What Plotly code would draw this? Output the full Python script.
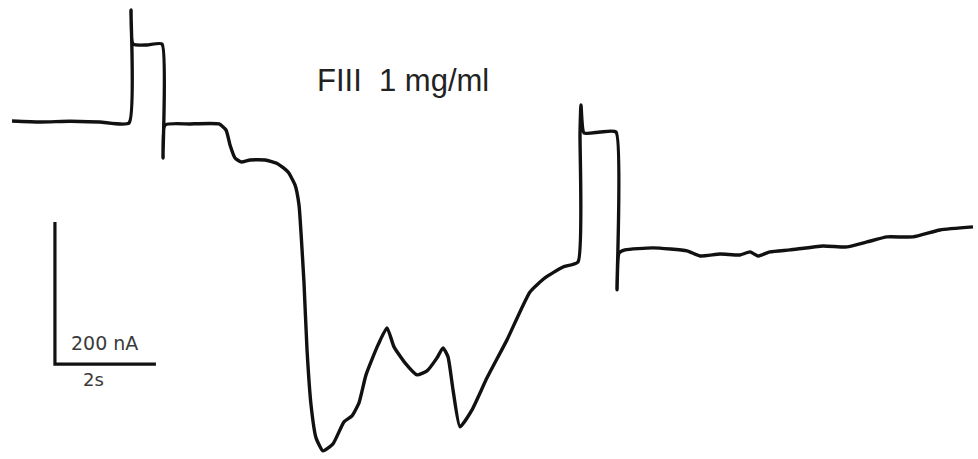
import plotly.graph_objects as go

# Recorded current trace: time (s) and current (nA, relative to initial baseline)
time_s = [
    0.00, 0.55, 1.15, 1.74, 2.317, 2.356, 2.396, 2.673, 2.970, 2.990, 3.030,
    3.525, 4.099, 4.238, 4.317, 4.416, 4.535, 4.713, 5.010, 5.267, 5.465,
    5.604, 5.683, 5.723, 5.782, 5.842, 5.921, 6.020, 6.158, 6.356, 6.574,
    6.733, 6.871, 7.010, 7.248, 7.426, 7.564, 7.782, 8.020, 8.218, 8.416,
    8.535, 8.634, 8.733, 8.871, 9.109, 9.406, 9.802, 10.257, 10.554, 10.911,
    11.208, 11.248, 11.267, 11.327, 11.644, 11.960, 11.980, 12.020, 12.139,
    12.693, 13.366, 13.624, 14.020, 14.416, 14.614, 14.772, 15.010, 15.406,
    16.059, 16.535, 16.931, 17.327, 17.842, 18.376, 19.030,
]
current_nA = [
    1.4, 0.0, 1.0, 0.0, -1.4, 157.7, 109.8, 108.4, 109.8, -50.7, -4.2,
    -2.8, -2.8, -11.3, -32.4, -50.7, -56.3, -53.5, -53.5, -59.1, -70.4,
    -88.7, -116.9, -156.3, -226.7, -321.0, -398.5, -444.9, -463.2, -453.4, -422.4,
    -413.9, -395.6, -356.2, -314.0, -290.0, -316.8, -339.3, -356.2, -350.6, -332.3,
    -318.2, -330.9, -377.3, -429.4, -405.5, -360.4, -306.9, -239.4, -219.6, -204.2,
    -197.1, -15.5, 23.9, -15.5, -14.1, -14.1, -236.5, -184.5, -180.2,
    -177.4, -181.6, -188.7, -185.9, -187.3, -183.0, -188.7, -183.0, -180.2,
    -174.6, -176.0, -169.0, -161.9, -161.9, -152.1, -147.8,
]

# Scale bar: 2 s horizontal, 200 nA vertical
bar_t0, bar_i0 = 0.85, -341.0
bar_dt, bar_di = 2.0, 200.0
bar_t = [bar_t0, bar_t0, bar_t0 + bar_dt]
bar_i = [bar_i0 + bar_di, bar_i0, bar_i0]

title_text = "FIII\u00a0 1 mg/ml"
label_current = "200 nA"
label_time = "2s"

fig = go.Figure()
fig.add_trace(go.Scatter(
    x=time_s, y=current_nA, mode="lines",
    line=dict(color="#111111", width=3.4, shape="spline", smoothing=0.5),
    hoverinfo="skip", showlegend=False,
))
fig.add_trace(go.Scatter(
    x=bar_t, y=bar_i, mode="lines",
    line=dict(color="#111111", width=3.2), hoverinfo="skip", showlegend=False,
))

fig.add_annotation(
    text=title_text, x=7.75, y=58, xref="x", yref="y",
    showarrow=False, xanchor="center", yanchor="middle",
    font=dict(family="Liberation Sans, Arial, sans-serif", size=31, color="#222222"),
)
fig.add_annotation(
    text=label_current, x=bar_t0 + 0.98, y=bar_i0 + 29, xref="x", yref="y",
    showarrow=False, xanchor="center", yanchor="middle",
    font=dict(family="DejaVu Sans, sans-serif", size=19, color="#3a3a3a"),
)
fig.add_annotation(
    text=label_time, x=bar_t0 + 0.77, y=bar_i0 - 22, xref="x", yref="y",
    showarrow=False, xanchor="center", yanchor="middle",
    font=dict(family="DejaVu Sans, sans-serif", size=18, color="#3a3a3a"),
)

fig.update_layout(
    width=978, height=459,
    margin=dict(l=0, r=0, t=0, b=0),
    paper_bgcolor="white", plot_bgcolor="white",
    xaxis=dict(range=[-0.238, 19.129], visible=False, fixedrange=True),
    yaxis=dict(range=[-474.7, 171.8], visible=False, fixedrange=True),
)

fig.write_html("out.html")
